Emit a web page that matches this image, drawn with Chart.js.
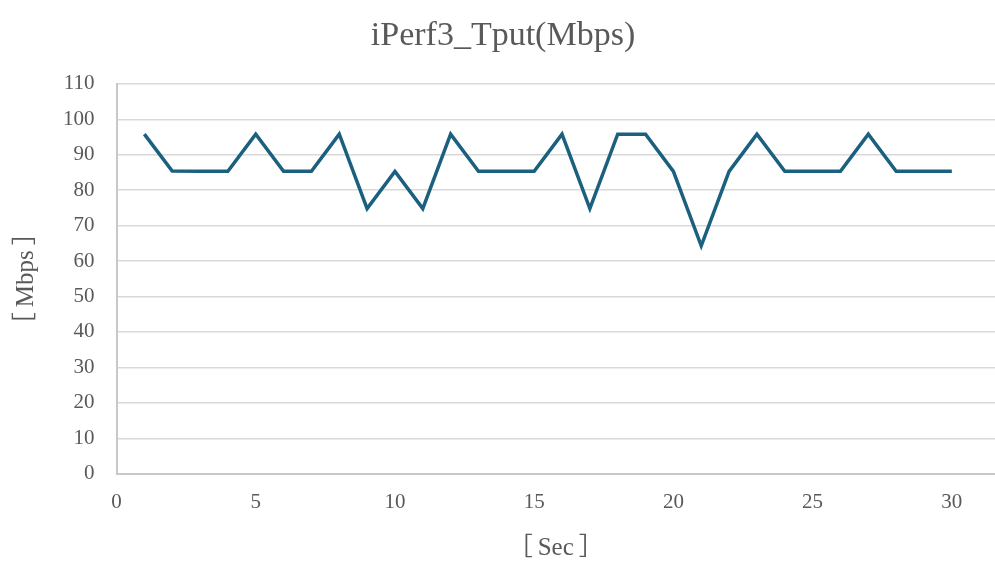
<!DOCTYPE html>
<html>
<head>
<meta charset="utf-8">
<script src="https://cdn.jsdelivr.net/npm/chart.js@4/dist/chart.umd.min.js"></script>
<style>
  html, body { margin: 0; padding: 0; background: #ffffff; }
  #wrap { width: 995px; height: 563px; position: relative; }
</style>
</head>
<body>
<div id="wrap"><canvas id="c" width="995" height="563"></canvas></div>
<script>
// Throughput sampled once per second
const seconds = [1, 2, 3, 4, 5, 6, 7, 8, 9, 10, 11, 12, 13, 14, 15, 16, 17, 18, 19, 20, 21, 22, 23, 24, 25, 26, 27, 28, 29, 30];
const tputMbps = [95.8, 85.4, 85.3, 85.3, 95.8, 85.3, 85.3, 95.8, 74.8, 85.3, 74.8, 95.8, 85.3, 85.3, 85.3, 95.8, 74.8, 95.8, 95.8, 85.3, 64.3, 85.3, 95.8, 85.3, 85.3, 85.3, 95.8, 85.3, 85.3, 85.3];
const yTicks = [0, 10, 20, 30, 40, 50, 60, 70, 80, 90, 100, 110];
const xTicks = [0, 5, 10, 15, 20, 25, 30];

const points = seconds.map((s, i) => ({ x: s, y: tputMbps[i] }));
const FONT = "'Liberation Serif', 'Noto Sans CJK JP', serif";
const TEXT = '#595959';

new Chart(document.getElementById('c'), {
  type: 'scatter',
  data: {
    datasets: [{
      data: points,
      showLine: true,
      borderColor: '#1c6080',
      borderWidth: 3.5,
      pointRadius: 0,
      pointHoverRadius: 0,
      tension: 0,
      fill: false
    }]
  },
  options: {
    responsive: false,
    animation: false,
    layout: { padding: { left: 11, right: 0, top: 16, bottom: 0 } },
    plugins: {
      legend: { display: false },
      tooltip: { enabled: false },
      title: {
        display: true,
        text: 'iPerf3_Tput(Mbps)',
        color: TEXT,
        font: { family: FONT, size: 34, weight: 'normal' },
        padding: { top: 0, bottom: 27 }
      }
    },
    scales: {
      x: {
        type: 'linear',
        min: 0,
        max: 31.55,
        afterBuildTicks: (axis) => { axis.ticks = xTicks.map(v => ({ value: v })); },
        ticks: { color: TEXT, font: { family: FONT, size: 21 }, padding: 16, maxRotation: 0 },
        grid: { display: false, drawTicks: false },
        border: { display: true, color: '#c8c8c8', width: 2 },
        title: {
          display: true,
          text: '［\u2009Sec\u2009］',
          color: TEXT,
          font: { family: FONT, size: 25 },
          padding: { top: 2, bottom: 0 }
        }
      },
      y: {
        min: 0,
        max: 110,
        afterBuildTicks: (axis) => { axis.ticks = yTicks.map(v => ({ value: v })); },
        ticks: { color: TEXT, font: { family: FONT, size: 21 }, padding: 22 },
        grid: { color: '#d9d9d9', lineWidth: 1.5, drawTicks: false },
        border: { display: true, color: '#c8c8c8', width: 2 },
        title: {
          display: true,
          text: '［\u2009Mbps\u2009］',
          color: TEXT,
          font: { family: FONT, size: 25 },
          padding: { top: 0, bottom: 0 }
        }
      }
    }
  }
});
</script>
</body>
</html>
